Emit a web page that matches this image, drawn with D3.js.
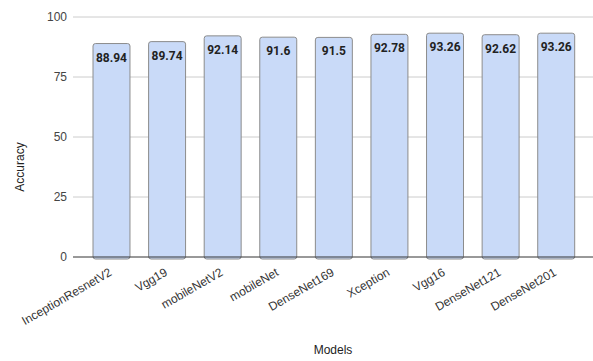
<!DOCTYPE html>
<html>
<head>
<meta charset="utf-8">
<script src="https://d3js.org/d3.v7.min.js"></script>
<style>
  body { margin: 0; background: #fff; }
</style>
</head>
<body>
<div id="chart"></div>
<script>
var models = ["InceptionResnetV2", "Vgg19", "mobileNetV2", "mobileNet", "DenseNet169",
              "Xception", "Vgg16", "DenseNet121", "DenseNet201"];
var accuracy = [88.94, 89.74, 92.14, 91.6, 91.5, 92.78, 93.26, 92.62, 93.26];
var yTicks = [0, 25, 50, 75, 100];

var width = 593, height = 361;
var margin = { top: 17, right: 0, bottom: 104, left: 73 };

var svg = d3.select("#chart")
    .append("svg")
    .attr("width", width)
    .attr("height", height);

var x = d3.scaleBand()
    .domain(models)
    .range([margin.left + 10.7, width - 9])
    .paddingInner(0.335)
    .paddingOuter(0.1675);

var y = d3.scaleLinear()
    .domain([0, 100])
    .range([height - margin.bottom, margin.top]);

// gridlines
svg.append("g")
    .selectAll("line")
    .data(yTicks.slice(1))
    .enter()
    .append("line")
    .attr("x1", margin.left)
    .attr("x2", width)
    .attr("y1", function(d) { return y(d); })
    .attr("y2", function(d) { return y(d); })
    .attr("stroke", "#cccccc")
    .attr("stroke-width", 1);

// y tick labels
svg.append("g")
    .selectAll("text")
    .data(yTicks)
    .enter()
    .append("text")
    .attr("x", margin.left - 6)
    .attr("y", function(d) { return y(d); })
    .attr("dy", "0.35em")
    .attr("text-anchor", "end")
    .attr("font-family", "Liberation Sans, Arial, sans-serif")
    .attr("font-size", 12)
    .attr("fill", "#444")
    .text(function(d) { return d; });

// bars
svg.append("g")
    .selectAll("rect")
    .data(accuracy)
    .enter()
    .append("rect")
    .attr("x", function(d, i) { return x(models[i]); })
    .attr("y", function(d) { return y(d); })
    .attr("width", x.bandwidth())
    .attr("height", function(d) { return y(0) - y(d) + 2; })
    .attr("rx", 2.5)
    .attr("fill", "#c9daf8")
    .attr("stroke", "#8c8c8c")
    .attr("stroke-width", 1);

// baseline
svg.append("line")
    .attr("x1", margin.left)
    .attr("x2", width)
    .attr("y1", y(0))
    .attr("y2", y(0))
    .attr("stroke", "#333")
    .attr("stroke-width", 1);

// value labels
svg.append("g")
    .selectAll("text")
    .data(accuracy)
    .enter()
    .append("text")
    .attr("x", function(d, i) { return x(models[i]) + x.bandwidth() / 2; })
    .attr("y", function(d) { return y(d) + 18; })
    .attr("text-anchor", "middle")
    .attr("font-family", "Roboto, sans-serif")
    .attr("font-weight", "bold")
    .attr("font-size", 12)
    .attr("fill", "#222")
    .text(function(d) { return d; });

// x labels
svg.append("g")
    .selectAll("text")
    .data(models)
    .enter()
    .append("text")
    .attr("transform", function(d) {
        return "translate(" + (x(d) + x.bandwidth() / 2 - 1) + "," + (y(0) + 14) + ") rotate(-30)";
    })
    .attr("text-anchor", "end")
    .attr("dy", "0.35em")
    .attr("font-family", "Liberation Sans, Arial, sans-serif")
    .attr("font-size", 12)
    .attr("fill", "#333")
    .text(function(d) { return d; });

// axis titles
svg.append("text")
    .attr("x", (margin.left + width) / 2)
    .attr("y", 354)
    .attr("text-anchor", "middle")
    .attr("font-family", "Liberation Sans, Arial, sans-serif")
    .attr("font-size", 12)
    .attr("fill", "#222")
    .text("Models");

svg.append("text")
    .attr("transform", "translate(24,167) rotate(-90)")
    .attr("text-anchor", "middle")
    .attr("font-family", "Liberation Sans, Arial, sans-serif")
    .attr("font-size", 12)
    .attr("fill", "#222")
    .text("Accuracy");
</script>
</body>
</html>
